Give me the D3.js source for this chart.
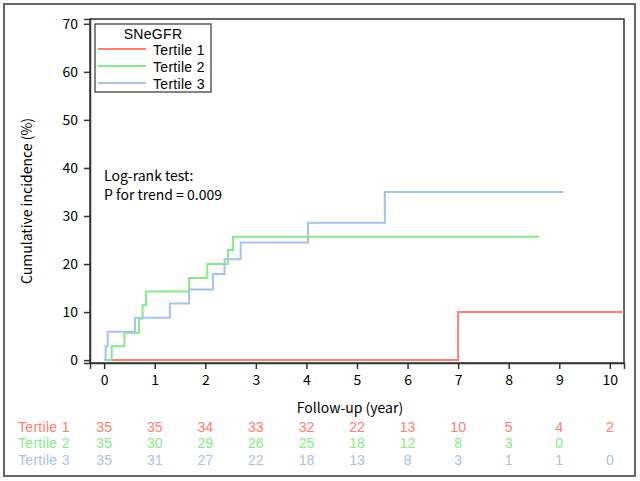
<!DOCTYPE html>
<html>
<head>
<meta charset="utf-8">
<script src="https://cdn.jsdelivr.net/npm/d3@7"></script>
<style>
body { margin: 0; background: #fff; }
text { font-family: "Noto Sans CJK JP", "DejaVu Sans", sans-serif; }
text.tight { font-family: "Liberation Sans", Arial, sans-serif; }
</style>
</head>
<body>
<div id="chart"></div>
<script>
var svgWidth = 640;
var svgHeight = 481;

// step data (time in years, cumulative incidence %)
var t1Times = [0, 7.0, 10.3];
var t1Values = [0, 10.0, 10.0];
var t2Times = [0, 0.15, 0.40, 0.69, 0.76, 0.83, 1.68, 2.04, 2.45, 2.55, 8.6];
var t2Values = [0, 2.9, 5.7, 8.6, 11.4, 14.3, 17.1, 20.0, 22.9, 25.7, 25.7];
var t3Times = [0, 0.03, 0.07, 0.61, 1.30, 1.68, 2.15, 2.38, 2.70, 4.03, 5.55, 9.08];
var t3Values = [0, 2.9, 5.9, 8.8, 11.8, 14.7, 17.9, 21.0, 24.5, 28.6, 35.0, 35.0];

var seriesNames = ['Tertile 1', 'Tertile 2', 'Tertile 3'];
var seriesColors = ['#fa7f72', '#88e888', '#a9c1e3'];

var riskTimes = [0, 1, 2, 3, 4, 5, 6, 7, 8, 9, 10];
var risk1 = [35, 35, 34, 33, 32, 22, 13, 10, 5, 4, 2];
var risk2 = [35, 30, 29, 26, 25, 18, 12, 8, 3, 0, null];
var risk3 = [35, 31, 27, 22, 18, 13, 8, 3, 1, 1, 0];

var yTicks = [0, 10, 20, 30, 40, 50, 60, 70];
var xTicks = [0, 1, 2, 3, 4, 5, 6, 7, 8, 9, 10];

var margin = {top: 19, right: 16, bottom: 118, left: 90};
var width = svgWidth - margin.left - margin.right;
var height = svgHeight - margin.top - margin.bottom;

var svg = d3.select('#chart')
    .append('svg')
    .attr('width', svgWidth)
    .attr('height', svgHeight);

// outer frame
svg.append('rect')
    .attr('x', 4).attr('y', 4)
    .attr('width', 631).attr('height', 472)
    .attr('fill', 'none')
    .attr('stroke', '#666')
    .attr('stroke-width', 2);

var chartGroup = svg.append('g')
    .attr('transform', `translate(${margin.left}, ${margin.top})`);

var xScale = d3.scaleLinear()
    .domain([-0.28, 10.28])
    .range([0, width]);

var yScale = d3.scaleLinear()
    .domain([-0.6, 71])
    .range([height, 0]);

chartGroup.append('clipPath')
    .attr('id', 'clip')
    .append('rect')
    .attr('width', width)
    .attr('height', height);

// plot frame
chartGroup.append('rect')
    .attr('width', width)
    .attr('height', height)
    .attr('fill', 'none')
    .attr('stroke', '#333')
    .attr('stroke-width', 1.5);

var bottomAxis = d3.axisBottom(xScale).tickValues(xTicks).tickSize(6).tickPadding(6);
var leftAxis = d3.axisLeft(yScale).tickValues(yTicks).tickSize(6).tickPadding(6);

var xg = chartGroup.append('g')
    .attr('transform', `translate(0, ${height})`)
    .call(bottomAxis);
var yg = chartGroup.append('g')
    .call(leftAxis);

[xg, yg].forEach(function(g){
    g.select('.domain').attr('stroke', '#333').attr('stroke-width', 1.5);
    g.selectAll('.tick line').attr('stroke', '#333').attr('stroke-width', 1.5);
    g.selectAll('.tick text').attr('fill', '#000').attr('font-size', '14px')
        .style('font-family', '"Noto Sans CJK JP", sans-serif');
});

// axis titles
svg.append('text')
    .attr('x', 350)
    .attr('y', 413)
    .attr('text-anchor', 'middle')
    .attr('font-size', '14px')
    .text('Follow-up (year)');

svg.append('text')
    .attr('transform', 'translate(32, 201) rotate(-90)')
    .attr('text-anchor', 'middle')
    .attr('font-size', '14px')
    .text('Cumulative incidence (%)');

// step lines
var line = d3.line()
    .curve(d3.curveStepAfter)
    .x(d => xScale(d[0]))
    .y(d => yScale(d[1]));

var allSeries = [
    d3.zip(t1Times, t1Values),
    d3.zip(t2Times, t2Values),
    d3.zip(t3Times, t3Values)
];

chartGroup.append('g')
    .attr('clip-path', 'url(#clip)')
    .selectAll('path')
    .data(allSeries)
    .enter()
    .append('path')
    .attr('d', line)
    .attr('fill', 'none')
    .attr('stroke', (d, i) => seriesColors[i])
    .attr('stroke-width', 2);

// legend
var legend = svg.append('g');
legend.append('rect')
    .attr('x', 95).attr('y', 24)
    .attr('width', 116).attr('height', 68)
    .attr('fill', '#fff')
    .attr('stroke', '#333')
    .attr('stroke-width', 1.2);
legend.append('text')
    .attr('class', 'tight')
    .attr('x', 153).attr('y', 39)
    .attr('text-anchor', 'middle')
    .attr('font-size', '14px')
    .attr('letter-spacing', '0.3px')
    .text('SNeGFR');
seriesNames.forEach(function(name, i){
    var y = 49 + i * 17;
    legend.append('line')
        .attr('x1', 98).attr('x2', 146)
        .attr('y1', y).attr('y2', y)
        .attr('stroke', seriesColors[i])
        .attr('stroke-width', 2);
    legend.append('text')
        .attr('class', 'tight')
        .attr('x', 153).attr('y', y + 6)
        .attr('font-size', '14px')
        .attr('letter-spacing', '0.3px')
        .text(name);
});

// annotation
svg.append('text')
    .attr('x', 104).attr('y', 181)
    .attr('font-size', '14px')
    .text('Log-rank test:');
svg.append('text')
    .attr('x', 104).attr('y', 200)
    .attr('font-size', '14px')
    .text('P for trend = 0.009');

// numbers at risk
var riskRows = [risk1, risk2, risk3];
riskRows.forEach(function(row, i){
    var y = 432 + i * 16.3;
    svg.append('text')
        .attr('class', 'tight')
        .attr('x', 18).attr('y', y)
        .attr('font-size', '14px')
        .attr('letter-spacing', '0.3px')
        .attr('fill', seriesColors[i])
        .text(seriesNames[i]);
    svg.append('g').selectAll('text')
        .data(d3.zip(riskTimes, row).filter(d => d[1] !== null))
        .enter()
        .append('text')
        .attr('class', 'tight')
        .attr('x', d => margin.left + xScale(d[0]))
        .attr('y', y)
        .attr('text-anchor', 'middle')
        .attr('font-size', '14px')
        .attr('fill', seriesColors[i])
        .text(d => d[1]);
});
</script>
</body>
</html>
